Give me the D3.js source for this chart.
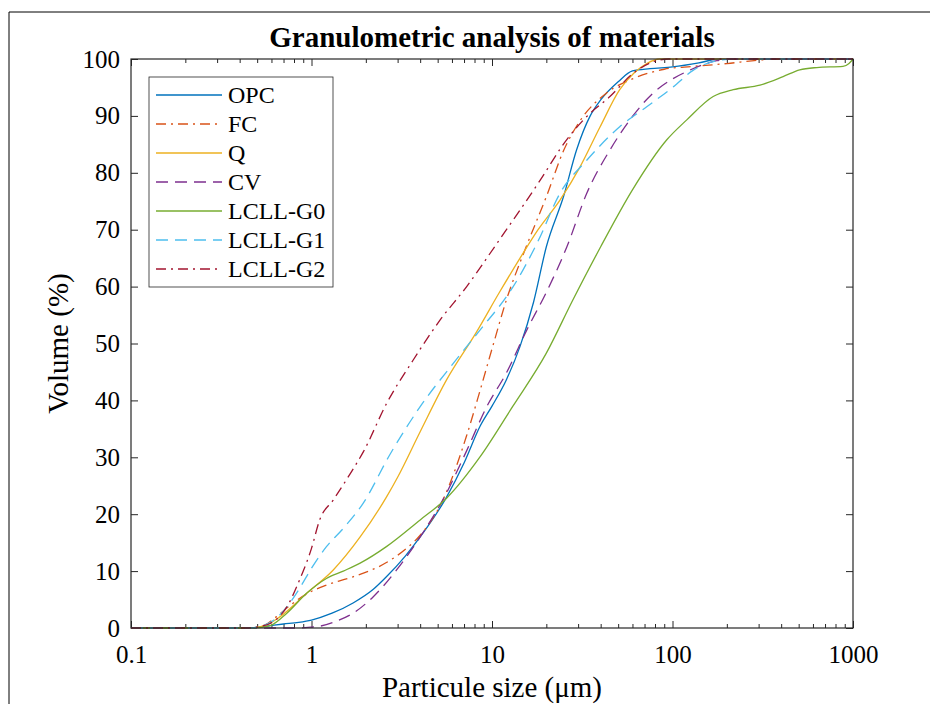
<!DOCTYPE html>
<html>
<head>
<meta charset="utf-8">
<script src="https://cdn.jsdelivr.net/npm/d3@7"></script>
<style>
  body { margin: 0; background: #fff; }
  svg text { font-family: "Liberation Serif", "Times New Roman", serif; fill: #000; }
</style>
</head>
<body>
<div id="chart"></div>
<script>
// [size µm, cumulative volume %]
const opc = [[0.1,0],[0.45,0],[0.55,0.3],[0.7,0.7],[0.85,1],[1,1.4],[1.3,2.6],[1.7,4.4],[2.2,6.8],[2.6,9],[3.3,12.6],[4,16],[5.6,23],[7,29],[8.6,35.5],[10,39],[12,43.6],[14.3,49.5],[17,57.3],[20,67],[25,76],[29.4,84],[35,90],[40,92.8],[50,96],[60,97.9],[75,98.3],[100,98.6],[140,99.3],[180,100],[1000,100]];
const fc = [[0.1,0],[0.45,0],[0.55,0.5],[0.64,2],[0.75,3.8],[0.94,6],[1.2,7.5],[1.7,9],[2.6,11.5],[3.3,13.8],[4,16.3],[5.4,22.8],[7.2,33.6],[8.6,41.8],[10.2,50],[12,57.6],[15.2,66.4],[20,75.8],[25,84],[31,89.3],[43,94],[60,96.5],[90,98.2],[130,98.7],[200,99.2],[300,99.8],[400,100],[1000,100]];
const q = [[0.1,0],[0.45,0],[0.55,0.4],[0.67,2],[0.94,6.1],[1.32,10.2],[1.86,16],[2.6,23],[3,26.5],[4,34.5],[5.6,43.6],[8.2,52],[11,59],[14.3,65],[18,70],[23.8,75.2],[30.7,81],[39.6,88],[51,94.6],[61,97.5],[72,99.2],[85,100],[1000,100]];
const cv = [[0.1,0],[0.5,0],[0.8,0],[1.1,0.3],[1.4,1.3],[1.7,2.6],[2.2,5.5],[2.96,10.2],[4,16],[5.4,22.8],[7.2,31],[9.35,38.9],[12,44.8],[15.6,52.4],[20,59],[26,67],[33.5,76.4],[45,84],[60,89.9],[78,94],[100,96.5],[120,97.8],[176,99.7],[220,100],[1000,100]];
const g0 = [[0.1,0],[0.45,0],[0.55,0.2],[0.6,0.5],[0.73,2.6],[0.94,6.1],[1.21,8.7],[1.5,10],[1.86,11.4],[2.6,14.3],[4,19],[5.6,22.8],[8.6,30.1],[13,38.9],[20,48.3],[28,57.6],[40,67],[60,77],[93,85.8],[120,89.3],[168,93.4],[217,94.6],[305,95.4],[410,96.9],[507,98.1],[630,98.5],[880,98.7],[950,99.2],[1000,100]];
const g1 = [[0.1,0],[0.45,0],[0.55,0.5],[0.62,1.4],[0.73,3.7],[0.86,7],[1,10.5],[1.21,14.3],[1.5,17.5],[1.94,22],[2.72,30.5],[4,38.9],[6.1,46.5],[8.6,52.4],[12,58.2],[13.1,60],[18,68],[23.8,76.4],[33.5,82.2],[51,88.1],[72,91.6],[101,95.1],[130,98],[176,99.7],[220,100],[1000,100]];
const g2 = [[0.1,0],[0.45,0],[0.52,0.3],[0.59,0.8],[0.73,3.7],[0.86,8.5],[1,14],[1.11,19],[1.32,22.5],[1.63,27],[1.94,31],[2.61,39.5],[3.66,47.1],[5.15,54.1],[7.24,60],[10.6,67.5],[18.5,78.7],[25.9,85.8],[33.5,89.9],[45,93.4],[60.7,97.5],[78,99.5],[95,100],[1000,100]];

const seriesNames = ["OPC", "FC", "Q", "CV", "LCLL-G0", "LCLL-G1", "LCLL-G2"];
const seriesData = [opc, fc, q, cv, g0, g1, g2];
const seriesColors = ["#0072BD", "#D95319", "#EDB120", "#7E2F8E", "#77AC30", "#4DBEEE", "#A2142F"];
const seriesDash = [null, "10,5,2,5", null, "12,7", null, "12,7", "10,5,2,5"];

const xMajor = [0.1, 1, 10, 100, 1000];
const yTicks = d3.range(0, 101, 10);

const W = 930, H = 704;
const margin = { top: 59, right: 77, bottom: 76, left: 131 };
const width = W - margin.left - margin.right;
const height = H - margin.top - margin.bottom;

const root = d3.select("#chart").append("svg")
  .attr("width", W)
  .attr("height", H);

// figure frame (only top/left edges fall inside the picture)
root.append("path")
  .attr("d", `M9,${H} L9,12 L${W},12`)
  .attr("fill", "none")
  .attr("stroke", "#000")
  .attr("stroke-width", 1);

const svg = root.append("g")
  .attr("transform", `translate(${margin.left},${margin.top})`);

const x = d3.scaleLog().domain([0.1, 1000]).range([0, width]);
const y = d3.scaleLinear().domain([0, 100]).range([height, 0]);

// minor log ticks
const xMinor = [];
xMajor.slice(0, -1).forEach(m => { for (let k = 2; k <= 9; k++) xMinor.push(m * k); });

function styleAxis(g) {
  g.select(".domain").remove();
  g.selectAll("line").attr("stroke", "#262626").attr("stroke-width", 1);
  g.selectAll("text").attr("font-size", 25).attr("font-family", "Liberation Serif, serif");
}

// bottom
svg.append("g")
  .attr("transform", `translate(0,${height})`)
  .call(d3.axisBottom(x).tickValues(xMajor).tickFormat(d3.format("~g")).tickSize(-7).tickPadding(17))
  .call(styleAxis);
svg.append("g")
  .attr("transform", `translate(0,${height})`)
  .call(d3.axisBottom(x).tickValues(xMinor).tickFormat("").tickSize(-4))
  .call(styleAxis);
// top
svg.append("g")
  .call(d3.axisTop(x).tickValues(xMajor).tickFormat("").tickSize(-7))
  .call(styleAxis);
svg.append("g")
  .call(d3.axisTop(x).tickValues(xMinor).tickFormat("").tickSize(-4))
  .call(styleAxis);
// left
svg.append("g")
  .call(d3.axisLeft(y).tickValues(yTicks).tickSize(-7).tickPadding(11))
  .call(styleAxis);
// right
svg.append("g")
  .attr("transform", `translate(${width},0)`)
  .call(d3.axisRight(y).tickValues(yTicks).tickFormat("").tickSize(-7))
  .call(styleAxis);

// curves
const line = d3.line()
  .x(d => x(d[0]))
  .y(d => y(d[1]))
  .curve(d3.curveMonotoneX);

seriesData.forEach((data, i) => {
  svg.append("path")
    .datum(data)
    .attr("fill", "none")
    .attr("stroke", seriesColors[i])
    .attr("stroke-width", 1.3)
    .attr("stroke-dasharray", seriesDash[i])
    .attr("d", line);
});

// axes box
svg.append("rect")
  .attr("width", width)
  .attr("height", height)
  .attr("fill", "none")
  .attr("stroke", "#262626")
  .attr("stroke-width", 1.2);

// legend
const legend = root.append("g").attr("transform", "translate(149,77)");
legend.append("rect")
  .attr("width", 184)
  .attr("height", 210)
  .attr("fill", "#fff")
  .attr("stroke", "#262626")
  .attr("stroke-width", 0.8);

seriesNames.forEach((name, i) => {
  const ly = 18 + i * 29;
  legend.append("line")
    .attr("x1", 7).attr("x2", 73)
    .attr("y1", ly).attr("y2", ly)
    .attr("stroke", seriesColors[i])
    .attr("stroke-width", 1.3)
    .attr("stroke-dasharray", seriesDash[i]);
  legend.append("text")
    .attr("x", 79)
    .attr("y", ly)
    .attr("dy", "0.33em")
    .attr("font-size", 24)
    .text(name);
});

// title and axis labels
root.append("text")
  .attr("x", margin.left + width / 2)
  .attr("y", 47)
  .attr("text-anchor", "middle")
  .attr("font-size", 29)
  .attr("font-weight", "bold")
  .text("Granulometric analysis of materials");

root.append("text")
  .attr("x", margin.left + width / 2)
  .attr("y", 697)
  .attr("text-anchor", "middle")
  .attr("font-size", 29)
  .text("Particule size (μm)");

root.append("text")
  .attr("transform", `translate(68,${margin.top + height / 2}) rotate(-90)`)
  .attr("text-anchor", "middle")
  .attr("font-size", 29)
  .text("Volume (%)");
</script>
</body>
</html>
